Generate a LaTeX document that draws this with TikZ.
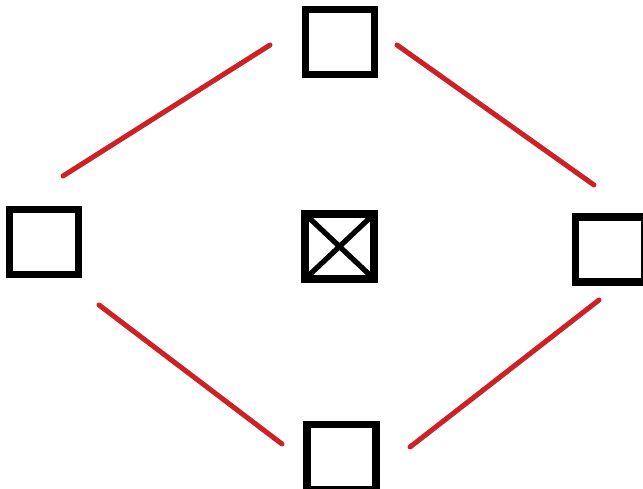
\documentclass[tikz,border=0pt]{standalone}
\usepackage{tikz}
\usetikzlibrary{calc}
\definecolor{lnkred}{RGB}{204,34,38}
\tikzset{
  sq/.style={draw=black,line width=6pt,minimum width=2.07cm,minimum height=1.95cm,inner sep=0pt},
  xsq/.style={sq,path picture={\draw[line width=4.5pt]
    (path picture bounding box.north west) -- (path picture bounding box.south east)
    (path picture bounding box.north east) -- (path picture bounding box.south west);}},
  lnk/.style={draw=lnkred,line width=4.3pt,line cap=round}
}
\begin{document}
\begin{tikzpicture}[x=0.03cm,y=-0.03cm]
\useasboundingbox (0,0) rectangle (643,489);
\node[sq] (top) at (340,42) {};
\node[sq] (lft) at (44,242) {};
\node[xsq] (mid) at (339.5,246.5) {};
\node[sq] (rgt) at (610,249.5) {};
\node[sq] (bot) at (341.5,457) {};
\draw[lnk] ($(lft)+(19,-66)$) -- ($(top)+(-70,3)$);
\draw[lnk] ($(top)+(57,3)$) -- ($(rgt)+(-16,-64.5)$);
\draw[lnk] ($(lft)+(55,63)$) -- ($(bot)+(-59.5,-13)$);
\draw[lnk] ($(bot)+(68.5,-10)$) -- ($(rgt)+(-11,50.5)$);
\end{tikzpicture}
\end{document}
